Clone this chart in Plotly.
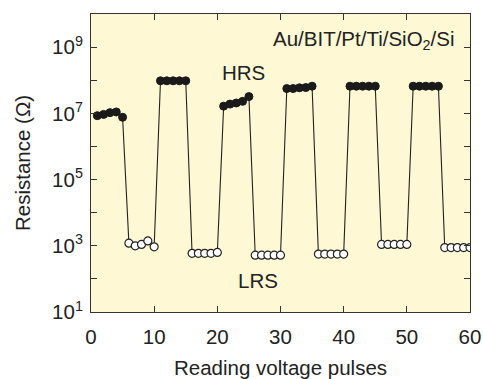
import plotly.graph_objects as go

pulses_hrs = [1, 2, 3, 4, 5, 11, 12, 13, 14, 15, 21, 22, 23, 24, 25,
              31, 32, 33, 34, 35, 41, 42, 43, 44, 45, 51, 52, 53, 54, 55]
res_hrs = [8.5e6, 9.3e6, 1.05e7, 1.1e7, 7.6e6,
           9.6e7, 9.6e7, 9.6e7, 9.6e7, 9.6e7,
           1.65e7, 1.9e7, 2.05e7, 2.3e7, 3.2e7,
           5.6e7, 5.6e7, 5.9e7, 6.0e7, 6.6e7,
           6.6e7, 6.6e7, 6.6e7, 6.6e7, 6.6e7,
           6.6e7, 6.6e7, 6.6e7, 6.6e7, 6.6e7]
pulses_lrs = [6, 7, 8, 9, 10, 16, 17, 18, 19, 20, 26, 27, 28, 29, 30,
              36, 37, 38, 39, 40, 46, 47, 48, 49, 50, 56, 57, 58, 59, 60]
res_lrs = [1.2e3, 1.0e3, 1.1e3, 1.4e3, 0.93e3,
           590, 590, 590, 590, 630,
           520, 520, 520, 520, 520,
           560, 560, 560, 560, 560,
           1.1e3, 1.1e3, 1.1e3, 1.1e3, 1.1e3,
           880, 880, 880, 880, 880]

exps = list(range(1, 11))
ytickvals = [10 ** e for e in exps]
yticktext = [f"10<sup>{e}</sup>" if e % 2 == 1 and e < 10 else "" for e in exps]

# merged sequence for connecting line
allpts = sorted(zip(pulses_hrs + pulses_lrs, res_hrs + res_lrs))
xs = [p[0] for p in allpts]
ys = [p[1] for p in allpts]

FONT = "Liberation Sans, Arial, sans-serif"
AX = "#333333"
FS = 20.5

fig = go.Figure()
fig.add_trace(go.Scatter(x=xs, y=ys, mode="lines",
                         line=dict(color="#222222", width=1.1), hoverinfo="skip"))
fig.add_trace(go.Scatter(x=pulses_hrs, y=res_hrs, mode="markers",
                         marker=dict(size=8, color="#1a1a1a",
                                     line=dict(color="#1a1a1a", width=1))))
fig.add_trace(go.Scatter(x=pulses_lrs, y=res_lrs, mode="markers",
                         marker=dict(size=8, color="white",
                                     line=dict(color="#222222", width=1.2))))

fig.update_layout(
    width=483, height=379,
    margin=dict(l=91, r=13, t=14, b=67),
    paper_bgcolor="white",
    plot_bgcolor="#FFF8D5",
    showlegend=False,
    font=dict(family=FONT, size=FS, color="#222222"),
    xaxis=dict(range=[0, 60], tickmode="array", tickvals=[0, 10, 20, 30, 40, 50, 60],
               ticks="inside", ticklen=6, tickcolor=AX, showline=True, linecolor=AX,
               linewidth=1, mirror="ticks", showgrid=False, zeroline=False,
               tickfont=dict(size=FS), ticklabelstandoff=6, automargin=False,
               title=dict(text="Reading voltage pulses", font=dict(size=FS), standoff=30)),
    yaxis=dict(type="log", range=[1, 10], tickmode="array", tickvals=ytickvals,
               ticktext=yticktext, ticks="inside", ticklen=6, tickcolor=AX,
               showline=True, linecolor=AX, linewidth=1, mirror="ticks",
               showgrid=False, zeroline=False, tickfont=dict(size=FS),
               ticklabelstandoff=3, automargin=False,
               title=dict(text="Resistance (Ω)", font=dict(size=FS), standoff=15)),
    annotations=[
        dict(text="Au/BIT/Pt/Ti/SiO<sub>2</sub>/Si", xref="paper", yref="paper",
             x=(457 - 91) / 379, y=1 - (40 - 14) / 298, xanchor="right", yanchor="middle",
             showarrow=False, font=dict(size=FS)),
        dict(text="HRS", xref="paper", yref="paper",
             x=(243 - 91) / 379, y=1 - (72 - 14) / 298, xanchor="center", yanchor="middle",
             showarrow=False, font=dict(size=FS)),
        dict(text="LRS", xref="paper", yref="paper",
             x=(258 - 91) / 379, y=1 - (280 - 14) / 298, xanchor="center", yanchor="middle",
             showarrow=False, font=dict(size=FS)),
    ],
)

fig.write_html("out.html")
